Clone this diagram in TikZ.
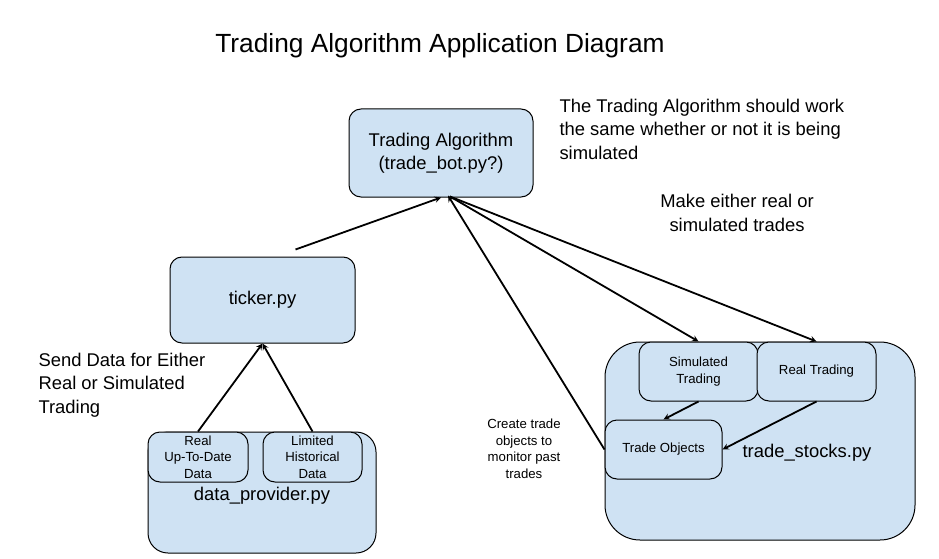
\documentclass[tikz,border=0pt]{standalone}
\usepackage{fontspec}
\setmainfont{Liberation Sans}
\usepackage{tikz}
\usetikzlibrary{arrows, positioning, calc}
\definecolor{boxblue}{RGB}{207,226,243}
\newcommand{\bigtxt}{\fontsize{18.4}{23.5}\selectfont}
\newcommand{\smalltxt}{\fontsize{13.2}{16.5}\selectfont}

\begin{document}
\begin{tikzpicture}[x=1pt, y=-1pt,
  box/.style={draw, fill=boxblue, line width=1pt, rounded corners=12pt, inner sep=0pt, align=center},
  flow/.style={->, >=stealth, line width=1.8pt}]
\useasboundingbox (0,0) rectangle (939,559);
\node at (440,46) {\fontsize{26.3}{30}\selectfont Trading Algorithm Application Diagram};
% main program
\node[box, minimum width=184pt, minimum height=88pt, font=\bigtxt] (algo) at (441,153) {Trading Algorithm\\(trade\_bot.py?)};
\node[anchor=west, align=left, font=\bigtxt] (note) at (556,129) {The Trading Algorithm should work\\the same whether or not it is being\\simulated};
\node[align=center, font=\bigtxt] (tradesnote) at (737,213) {Make either real or\\simulated trades};
% data side
\node[box, minimum width=185pt, minimum height=86pt, font=\bigtxt] (ticker) at (262.5,300) {ticker.py};
\node[anchor=west, align=left, font=\bigtxt] (sendnote) at (35,385) {Send Data for Either\\Real or Simulated\\Trading};
\node[box, rounded corners=20pt, minimum width=228pt, minimum height=121pt] (dataprov) at (262,492.5) {};
\node[font=\bigtxt] (dataprovlbl) at (262,496) {data\_provider.py};
\node[box, minimum width=100pt, minimum height=50pt, font=\smalltxt] (realdata) at (198,457) {Real\\Up-To-Date\\Data};
\node[box, minimum width=99pt, minimum height=50pt, font=\smalltxt] (histdata) at (312.5,457) {Limited\\Historical\\Data};
% trading side
\node[box, rounded corners=35pt, minimum width=310pt, minimum height=198pt] (stocks) at (760,441) {};
\node[font=\bigtxt] (stockslbl) at (807,453) {trade\_stocks.py};
\node[box, minimum width=119pt, minimum height=59pt, font=\smalltxt] (simtrade) at (698.5,371.5) {Simulated\\Trading};
\node[box, minimum width=119pt, minimum height=59pt, font=\smalltxt] (realtrade) at (816.5,371.5) {Real Trading};
\node[box, minimum width=117pt, minimum height=59pt, font=\smalltxt] (tradeobj) at (663.5,449.5) {Trade Objects};
\node[align=center, font=\smalltxt] (objnote) at (524,449) {Create trade\\objects to\\monitor past\\trades};
% connectors
\draw[flow] ($(ticker.north)+(33,-7)$) -- (algo.south);
\draw[flow] (tradeobj.west) -- ($(algo.south)+(7,-2)$);
\draw[flow] ($(algo.south)+(9,-1)$) -- (simtrade.north);
\draw[flow] ($(algo.south)+(9,-1)$) -- (realtrade.north);
\draw[flow] (realdata.north) -- (ticker.south);
\draw[flow] (histdata.north) -- (ticker.south);
\draw[flow] (simtrade.south) -- (tradeobj.north);
\draw[flow] (realtrade.south) -- (tradeobj.east);
\end{tikzpicture}
\end{document}
